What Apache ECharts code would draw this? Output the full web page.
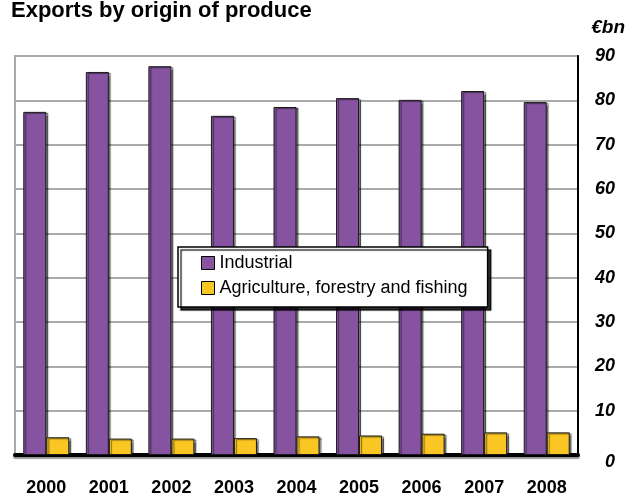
<!DOCTYPE html>
<html><head><meta charset="utf-8">
<script src="https://cdn.jsdelivr.net/npm/echarts@6/dist/echarts.min.js"></script>
<style>html,body{margin:0;padding:0;background:#fff}#c{width:625px;height:497px}</style>
</head><body><div id="c"></div>
<script>
const years = ['2000','2001','2002','2003','2004','2005','2006','2007','2008'];
const industrial = [77.4, 86.4, 87.7, 76.5, 78.5, 80.5, 80.1, 82.1, 79.6];
const agriculture = [4.0, 3.7, 3.7, 3.8, 4.2, 4.4, 4.8, 5.1, 5.1];
const yTicks = [0, 10, 20, 30, 40, 50, 60, 70, 80, 90];

const chart = echarts.init(document.getElementById('c'));
const barStyle = (c) => ({color: c, borderColor: '#1a1a1a', borderWidth: 1,
  shadowColor: 'rgba(0,0,0,0.5)', shadowOffsetX: 2, shadowOffsetY: 1, shadowBlur: 1});
chart.setOption({
  animation: false,
  backgroundColor: '#fff',
  title: [
    {text: 'Exports by origin of produce', left: 11, top: 0, padding: 0,
     textStyle: {fontFamily: 'Liberation Sans', fontWeight: 'bold', fontSize: 22, color: '#000'}},
    {text: '€bn', right: 0, top: 18, padding: 0,
     textStyle: {fontFamily: 'Liberation Sans', fontWeight: 'bold', fontStyle: 'italic', fontSize: 19, color: '#000'}}
  ],
  legend: {
    orient: 'vertical', left: 178, top: 247,
    backgroundColor: '#fff', borderColor: '#000', borderWidth: 1.5,
    padding: [6, 20, 9, 23], itemGap: 5, itemWidth: 13, itemHeight: 13, icon: 'rect',
    shadowColor: 'rgba(0,0,0,0.8)', shadowOffsetX: 3, shadowOffsetY: 3, shadowBlur: 1,
    textStyle: {fontFamily: 'Liberation Sans', fontSize: 18, color: '#000', lineHeight: 20},
    itemStyle: {borderColor: '#000', borderWidth: 1},
    data: ['Industrial', 'Agriculture, forestry and fishing']
  },
  grid: {left: 15, right: 47, top: 56, bottom: 39, show: true, borderColor: '#aaa', borderWidth: 2, backgroundColor: 'transparent'},
  xAxis: {
    type: 'category', data: years,
    axisLine: {lineStyle: {color: '#000', width: 4, shadowColor: 'rgba(0,0,0,0.4)', shadowOffsetY: 2, shadowBlur: 1}},
    axisTick: {show: false},
    axisLabel: {margin: 24, fontFamily: 'Liberation Sans', fontWeight: 'bold', fontSize: 18, color: '#000'}
  },
  yAxis: {
    type: 'value', position: 'right', min: 0, max: 90, interval: 10,
    axisLine: {show: true, lineStyle: {color: '#000', width: 2}},
    axisTick: {show: false},
    splitLine: {lineStyle: {color: '#aaa', width: 2}},
    axisLabel: {margin: 37, align: 'right', fontFamily: 'Liberation Sans', fontWeight: 'bold', fontStyle: 'italic', fontSize: 18, color: '#000',
      formatter: v => yTicks.includes(v) ? (v === 0 ? '{z|0}' : String(v)) : '',
      rich: {z: {fontFamily: 'Liberation Sans', fontWeight: 'bold', fontStyle: 'italic', fontSize: 18, color: '#000', padding: [14, 0, 0, 0]}}}
  },
  series: [
    {name: 'Industrial', type: 'bar', data: industrial, barWidth: 23, barGap: '0%', itemStyle: barStyle('#8653A0')},
    {name: 'Agriculture, forestry and fishing', type: 'bar', data: agriculture, barWidth: 23, barGap: '0%', itemStyle: barStyle('#F9C623')}
  ]
});
</script></body></html>
